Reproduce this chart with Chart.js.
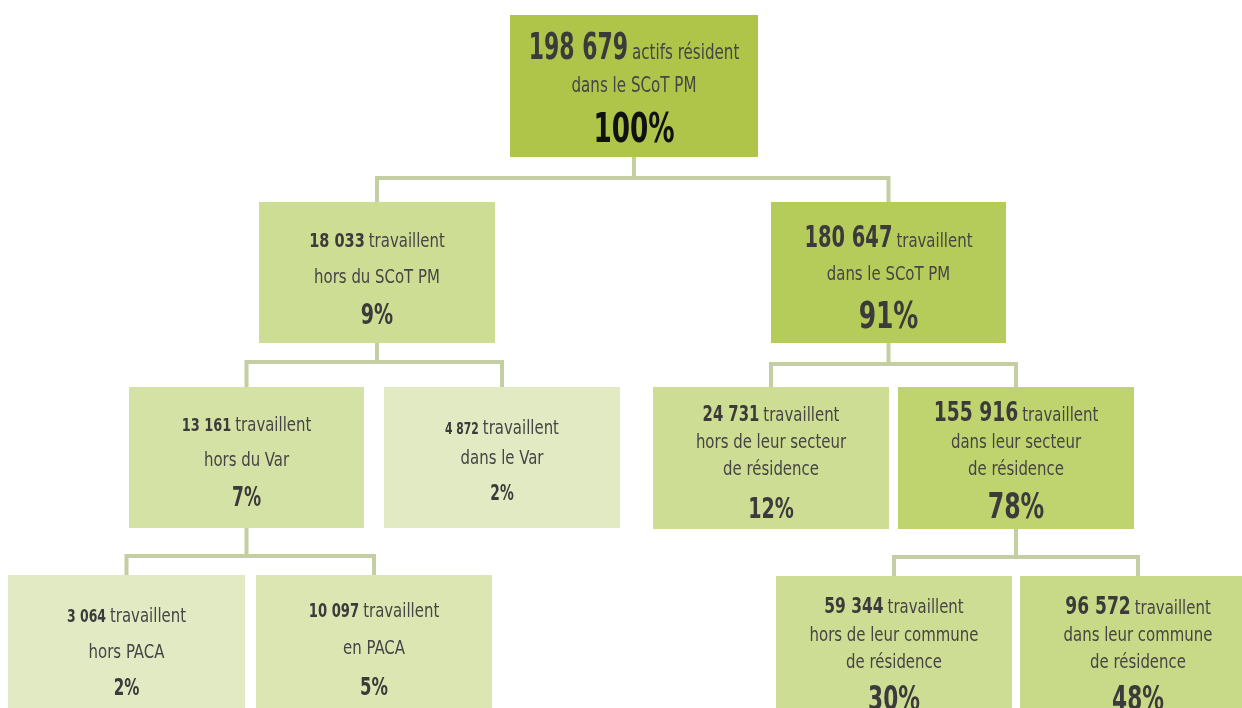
<!DOCTYPE html>
<html lang="fr">
<head>
<meta charset="utf-8">
<title>Actifs résidant dans le SCoT PM</title>
<script src="https://cdn.jsdelivr.net/npm/chart.js@4.4.1/dist/chart.umd.min.js"></script>
<style>
  html, body { margin: 0; padding: 0; background: #fff; }
  #wrap { width: 1242px; height: 708px; position: relative; }
</style>
</head>
<body>
<div id="wrap"><canvas id="treeChart"></canvas></div>
<script>
const effectifs = [198679, 18033, 180647, 13161, 4872, 24731, 155916, 3064, 10097, 59344, 96572];
const parts = [100, 9, 91, 7, 2, 12, 78, 2, 5, 30, 48];
const libelleTete = ['actifs résident', 'travaillent', 'travaillent', 'travaillent', 'travaillent',
    'travaillent', 'travaillent', 'travaillent', 'travaillent', 'travaillent', 'travaillent'];
const libelleSuite = [
    ['dans le SCoT PM'],
    ['hors du SCoT PM'],
    ['dans le SCoT PM'],
    ['hors du Var'],
    ['dans le Var'],
    ['hors de leur secteur', 'de résidence'],
    ['dans leur secteur', 'de résidence'],
    ['hors PACA'],
    ['en PACA'],
    ['hors de leur commune', 'de résidence'],
    ['dans leur commune', 'de résidence']
];
const parents = [null, 0, 0, 1, 1, 2, 2, 3, 3, 6, 6];

// Mise en page (unités des axes = pixels du schéma) ; lignes = lignes de base
const cases = [
    { x0: 510, x1: 758, y0: 15, y1: 157, fond: '#aec54a', num: 37, numSx: 0.66, txt: 21, txtSx: 0.8, pct: 40, pctCol: '#111', lignes: [59, 92, 142] },
    { x0: 259, x1: 495, y0: 202, y1: 343, fond: '#cedd94', num: 19, numSx: 0.85, pct: 29, lignes: [247, 283, 324] },
    { x0: 771, x1: 1006, y0: 202, y1: 343, fond: '#b5cb5a', num: 30, numSx: 0.72, pct: 38, lignes: [247, 280, 328] },
    { x0: 129, x1: 364, y0: 387, y1: 528, fond: '#d5e2a5', num: 18, numSx: 0.8, pct: 26, lignes: [431, 466, 506] },
    { x0: 384, x1: 620, y0: 387, y1: 528, fond: '#e2eac3', num: 15, numSx: 0.8, pct: 21, lignes: [434, 464, 500] },
    { x0: 653, x1: 889, y0: 387, y1: 529, fond: '#cddd93', num: 22, numSx: 0.75, pct: 29, lignes: [421, 448, 475, 518] },
    { x0: 898, x1: 1134, y0: 387, y1: 529, fond: '#bfd46e', num: 27, numSx: 0.77, pct: 36, lignes: [421, 448, 475, 518] },
    { x0: 8, x1: 245, y0: 575, y1: 712, fond: '#e2eac3', num: 18, numSx: 0.77, pct: 23, lignes: [622, 658, 695] },
    { x0: 256, x1: 492, y0: 575, y1: 712, fond: '#dce6b3', num: 19, numSx: 0.77, pct: 25, lignes: [617, 654, 695] },
    { x0: 776, x1: 1012, y0: 576, y1: 712, fond: '#cedd94', num: 21, numSx: 0.82, pct: 33, lignes: [613, 641, 668, 710] },
    { x0: 1020, x1: 1256, y0: 576, y1: 712, fond: '#c8da88', num: 25, numSx: 0.76, pct: 33, lignes: [614, 641, 668, 710] }
];
const liaisonY = { 0: 178, 1: 362, 2: 364, 3: 556, 6: 557 };
const police = '"DejaVu Sans Condensed", "DejaVu Sans", "Liberation Sans", sans-serif';
const pctSx = 0.73;

function formatNombre(n) {
    return String(n).replace(/\B(?=(\d{3})+(?!\d))/g, ' ');
}

// texte resserré horizontalement (police condensée de l'original)
function texte(ctx, t, x, y, font, sx, align) {
    ctx.font = font;
    const w = ctx.measureText(t).width * sx;
    const x0 = align === 'center' ? x - w / 2 : x;
    ctx.save();
    ctx.translate(x0, y);
    ctx.scale(sx, 1);
    ctx.textAlign = 'left';
    ctx.fillText(t, 0, 0);
    ctx.restore();
    return w;
}

function largeur(ctx, t, font, sx) {
    ctx.font = font;
    return ctx.measureText(t).width * sx;
}

const arbre = {
    id: 'arbre',
    beforeDatasetsDraw(chart) {
        const ctx = chart.ctx;
        const sx = chart.scales.x, sy = chart.scales.y;
        const px = v => sx.getPixelForValue(v);
        const py = v => sy.getPixelForValue(v);
        const cx = i => (cases[i].x0 + cases[i].x1) / 2;

        ctx.save();
        // liaisons
        ctx.strokeStyle = '#c3cea2';
        ctx.lineWidth = 4;
        Object.keys(liaisonY).forEach(k => {
            const p = +k;
            const enfants = parents.map((q, i) => q === p ? i : -1).filter(i => i >= 0);
            const yl = liaisonY[k];
            ctx.beginPath();
            ctx.moveTo(px(cx(p)), py(cases[p].y1));
            ctx.lineTo(px(cx(p)), py(yl));
            ctx.stroke();
            ctx.beginPath();
            ctx.moveTo(px(cx(enfants[0])), py(cases[enfants[0]].y0));
            ctx.lineTo(px(cx(enfants[0])), py(yl));
            ctx.lineTo(px(cx(enfants[1])), py(yl));
            ctx.lineTo(px(cx(enfants[1])), py(cases[enfants[1]].y0));
            ctx.stroke();
        });

        // cases et textes
        ctx.textBaseline = 'alphabetic';
        effectifs.forEach((n, i) => {
            const c = cases[i];
            ctx.fillStyle = c.fond;
            ctx.fillRect(px(c.x0), py(c.y0), px(c.x1) - px(c.x0), py(c.y1) - py(c.y0));

            const xm = px(cx(i));
            const fNum = 'bold ' + c.num + 'px ' + police;
            const fTxt = (c.txt || 20) + 'px ' + police;
            const sTxt = c.txtSx || 0.83;
            const tNum = formatNombre(n);
            const tTxt = libelleTete[i];
            const gap = 4;
            const wNum = largeur(ctx, tNum, fNum, c.numSx);
            const wTxt = largeur(ctx, tTxt, fTxt, sTxt);
            const x = xm - (wNum + gap + wTxt) / 2;
            const yb = py(c.lignes[0]);
            ctx.fillStyle = '#3b3b3b';
            texte(ctx, tNum, x, yb, fNum, c.numSx, 'left');
            ctx.fillStyle = '#454545';
            texte(ctx, tTxt, x + wNum + gap, yb, fTxt, sTxt, 'left');

            libelleSuite[i].forEach((t, j) => {
                texte(ctx, t, xm, py(c.lignes[j + 1]), fTxt, sTxt, 'center');
            });
            ctx.fillStyle = c.pctCol || '#3b3b3b';
            texte(ctx, parts[i] + '%', xm, py(c.lignes[c.lignes.length - 1]),
                'bold ' + c.pct + 'px ' + police, pctSx, 'center');
        });
        ctx.restore();
    }
};

new Chart(document.getElementById('treeChart').getContext('2d'), {
    type: 'scatter',
    data: {
        datasets: [{
            label: 'Actifs',
            data: effectifs.map((n, i) => ({ x: (cases[i].x0 + cases[i].x1) / 2, y: (cases[i].y0 + cases[i].y1) / 2, v: n })),
            pointRadius: 0
        }]
    },
    options: {
        responsive: true,
        maintainAspectRatio: false,
        animation: false,
        layout: { padding: 0 },
        plugins: {
            legend: { display: false },
            tooltip: { enabled: false }
        },
        scales: {
            x: { type: 'linear', min: 0, max: 1242, display: false },
            y: { type: 'linear', min: 0, max: 708, reverse: true, display: false }
        }
    },
    plugins: [arbre]
});
</script>
</body>
</html>
